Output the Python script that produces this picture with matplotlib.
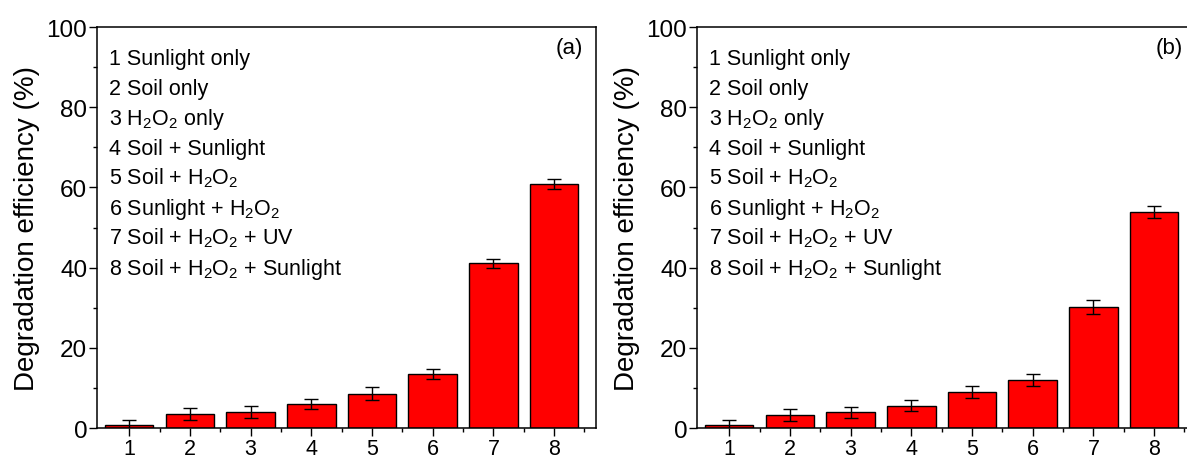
import matplotlib
matplotlib.use("Agg")
import matplotlib.pyplot as plt
from matplotlib.ticker import FixedLocator, MultipleLocator
import numpy as np

plt.rcParams['font.family'] = ['Liberation Sans', 'DejaVu Sans']
plt.rcParams['mathtext.default'] = 'regular'

# treatment numbers and legend entries
treatments = [1, 2, 3, 4, 5, 6, 7, 8]
labels = ['1 Sunlight only',
          '2 Soil only',
          '3 $H_2O_2$ only',
          '4 Soil + Sunlight',
          '5 Soil + $H_2O_2$',
          '6 Sunlight + $H_2O_2$',
          '7 Soil + $H_2O_2$ + UV',
          '8 Soil + $H_2O_2$ + Sunlight']

# degradation efficiency (%) and error for each panel
eff_a = [0.8, 3.5, 4.0, 6.0, 8.6, 13.5, 41.1, 60.9]
err_a = [1.3, 1.5, 1.4, 1.3, 1.6, 1.2, 1.1, 1.2]
eff_b = [0.7, 3.3, 3.9, 5.6, 9.1, 12.0, 30.1, 53.9]
err_b = [1.3, 1.5, 1.4, 1.3, 1.5, 1.5, 1.7, 1.5]


def draw_panel(ax, eff, err, tag):
    ax.bar(treatments, eff, width=0.8, color='#ff0000',
           edgecolor='black', linewidth=1.0)
    ax.errorbar(treatments, eff, yerr=err, fmt='none', ecolor='black',
                elinewidth=1.0, capsize=5, capthick=1.0)

    ax.set_xlim(0.47, 8.69)
    ax.set_ylim(0, 100)
    ax.set_xticks(treatments)
    ax.xaxis.set_minor_locator(FixedLocator(np.arange(1.5, 9, 1)))
    ax.yaxis.set_major_locator(MultipleLocator(20))
    ax.yaxis.set_minor_locator(MultipleLocator(10))
    ax.tick_params(which='both', direction='out', top=False, right=False,
                   width=1.0)
    ax.tick_params(which='major', length=5.5)
    ax.tick_params(which='minor', length=3)
    ax.tick_params(axis='x', labelsize=15.5, pad=2)
    ax.tick_params(axis='y', labelsize=17.5, pad=1.5)
    for s in ax.spines.values():
        s.set_linewidth(1.1)

    ax.set_ylabel('Degradation efficiency (%)', fontsize=20)
    ax.yaxis.set_label_coords(-0.114, 0.5)

    # legend block listing the treatments
    for i, txt in enumerate(labels):
        ax.text(0.024, 0.908 - i * 0.0748, txt, transform=ax.transAxes,
                fontsize=15.5, va='baseline', ha='left')
    ax.text(0.974, 0.95, tag, transform=ax.transAxes,
            fontsize=16, va='center', ha='right')


fig = plt.figure(figsize=(11.87, 4.64), dpi=100)
ax1 = fig.add_axes([0.0817, 0.0754, 0.4204, 0.8642])
ax2 = fig.add_axes([0.5872, 0.0754, 0.4204, 0.8642])

draw_panel(ax1, eff_a, err_a, '(a)')
draw_panel(ax2, eff_b, err_b, '(b)')

fig.savefig('out.png', dpi=100)
